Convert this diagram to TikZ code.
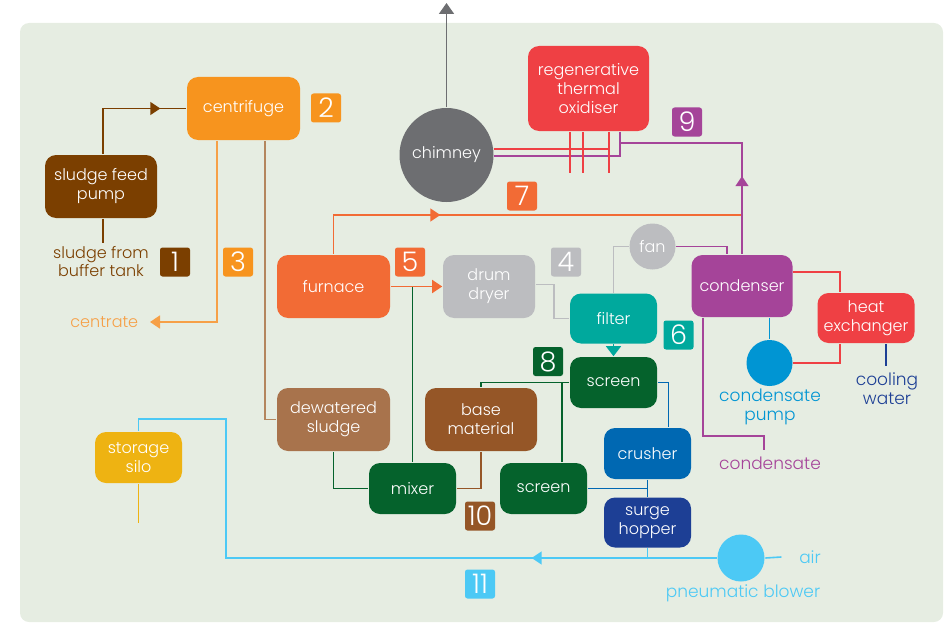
\documentclass[tikz,border=0pt]{standalone}
\usepackage{fontspec}
\setmainfont{Poppins}[UprightFont={* Light}]
\usetikzlibrary{arrows.meta,decorations.markings}

% plant colours
\definecolor{panel}{HTML}{E6EDE2}
\definecolor{cOrange}{HTML}{F7941E}
\definecolor{cCentrate}{HTML}{F6A047}
\definecolor{cPump}{HTML}{7B3F00}
\definecolor{cFurnace}{HTML}{F26B35}
\definecolor{cChimney}{HTML}{6D6E71}
\definecolor{cRed}{HTML}{EF4044}
\definecolor{cPurple}{HTML}{A54499}
\definecolor{cGrey}{HTML}{BCBDC0}
\definecolor{cTeal}{HTML}{00A99D}
\definecolor{cGreen}{HTML}{05622C}
\definecolor{cTan}{HTML}{A8734C}
\definecolor{cTanLine}{HTML}{B4865E}
\definecolor{cBase}{HTML}{955627}
\definecolor{cBlue}{HTML}{0068B2}
\definecolor{cNavy}{HTML}{1D3F95}
\definecolor{cYellow}{HTML}{EEB312}
\definecolor{cSky}{HTML}{4CC9F5}
\definecolor{cPumpBlue}{HTML}{0095D3}

\begin{document}
\begin{tikzpicture}[x=1pt,y=-1pt,line width=1.6pt,
  unit/.style={fill=#1,rounded corners=11pt,text=white,align=center,inner sep=0pt,
    minimum width=87pt,minimum height=51pt,font=\fontsize{16}{19}\selectfont},
  widebox/.style={minimum width=113pt,minimum height=63pt},
  vessel/.style={circle,fill=#1,inner sep=0pt,minimum size=46pt,text=white,
    font=\fontsize{16}{19}\selectfont},
  tag/.style={fill=#1,rounded corners=2.5pt,minimum width=30pt,minimum height=29pt,
    inner sep=0pt,text=white,font=\fontsize{27}{27}\selectfont},
  caption/.style={text=#1,align=center,inner sep=0pt,font=\fontsize{17}{19}\selectfont},
  flow/.style={-{Triangle[length=10pt,width=13pt]}},
  midflow/.style={postaction={decorate,decoration={markings,
    mark=at position #1 with {\arrow{Triangle[length=10pt,width=13pt]}}}}}]

  \useasboundingbox (0,0) rectangle (944,623);
  \fill[panel,rounded corners=9pt] (20,23) rectangle (943,622);

  % process units
  \node[unit=cOrange,widebox] (centrifuge) at (243.5,108.5) {centrifuge};
  \node[unit=cPump,widebox,minimum width=112pt] (feedpump) at (101,186.5) {sludge feed\\pump};
  \node[unit=cFurnace,widebox] (furnace) at (333.5,286.5) {furnace};
  \node[unit=cGrey,widebox,minimum width=92pt] (dryer) at (489,286.5) {drum\\dryer};
  \node[unit=cRed,minimum width=121pt,minimum height=85pt] (rto) at (588.5,88.5) {regenerative\\thermal\\oxidiser};
  \node[unit=cPurple,minimum width=101pt,minimum height=62pt] (condenser) at (742,286) {condenser};
  \node[unit=cRed,minimum width=97pt,minimum height=50pt] (hx) at (866,318) {heat\\exchanger};
  \node[unit=cTeal,minimum height=50pt] (filter) at (613.5,318.5) {filter};
  \node[unit=cGreen] (screenA) at (613.5,382.5) {screen};
  \node[unit=cTan,widebox] (dewatered) at (333.5,419.5) {dewatered\\sludge};
  \node[unit=cBase,widebox,minimum width=112pt] (base) at (481,419.5) {base\\material};
  \node[unit=cGreen] (mixer) at (412.5,488.5) {mixer};
  \node[unit=cGreen] (screenB) at (543.5,488.5) {screen};
  \node[unit=cBlue] (crusher) at (647.5,453.5) {crusher};
  \node[unit=cNavy,minimum height=50pt] (hopper) at (647.5,522.5) {surge\\hopper};
  \node[unit=cYellow] (silo) at (138.5,457.5) {storage\\silo};

  % round ones
  \node[vessel=cChimney,minimum size=94pt] (chimney) at (446.5,155) {chimney};
  \node[vessel=cGrey] (fan) at (652.5,246.5) {fan};
  \node[vessel=cPumpBlue] (cpump) at (769.5,363) {};
  \node[vessel=cSky,minimum size=47pt] (blower) at (741,558) {};

  % free texts
  \node[caption=cPump,font=\fontsize{16}{18}\selectfont] (feedsrc) at (101,262) {sludge from\\buffer tank};
  \node[caption=cCentrate,anchor=east,font=\fontsize{16}{18}\selectfont] (centrate) at (139,322) {centrate};
  \node[caption=cPumpBlue] (cpumptxt) at (770,407) {condensate\\pump};
  \node[caption=cPurple] (condensate) at (770,463) {condensate};
  \node[caption=cNavy] (cooling) at (887,389) {cooling\\water};
  \node[caption=cSky] (blowertxt) at (743,593) {pneumatic blower};
  \node[caption=cSky] (air) at (810,557) {air};

  \coordinate (stack) at (446.5,3);
  \coordinate (flueend) at (742,215);
  \coordinate (rtoin) at (620,143);
  \coordinate (drain) at (764,450);
  \coordinate (bend) at (226,419);

  % sludge side
  \draw[cPump,midflow=103pt] ([xshift=2pt]feedpump.north) |- (centrifuge.west);
  \draw[cPump] ([xshift=2pt]feedpump.south) -- ++(0,24);
  \draw[cCentrate,flow] ([xshift=-26.5pt]centrifuge.south) |- ([xshift=11pt]centrate.east);
  \draw[cTanLine] ([xshift=21.5pt]centrifuge.south) |- (dewatered.west);

  % hot gas
  \draw[cFurnace,midflow=146pt] (furnace.north) |- (flueend);
  \draw[cFurnace,flow] (furnace.east) -- (dryer.west);
  \draw[cGreen] (mixer.north) -- (mixer.north |- furnace.east);
  \draw[cGrey] ([yshift=2pt]dryer.east) -- ++(18,0) |- (filter.west);
  \draw[cGrey] (filter.north) |- (fan.west);
  \draw[cPurple] (fan.east) -| ([xshift=-15pt]condenser.north);
  \draw[cPurple,midflow=78pt] (condenser.north) |- (rtoin);
  \draw[cPurple] ([xshift=31.5pt]rto.south) |- (chimney.-1);
  \foreach \dx in {-18.5,-5.5,20.5}
    \draw[cRed] ([xshift=\dx pt]rto.south) -- ++(0,41);
  \draw[cRed] (chimney.7) -- ([xshift=20.5pt]rto.south |- chimney.7);
  \draw[cChimney,line width=1.8pt,-{Triangle[length=11pt,width=15pt]}] (chimney.north) -- (stack);

  % condenser loop
  \draw[cPurple] ([xshift=-39pt]condenser.south) |- ([yshift=14pt]drain) -- (drain);
  \draw[cPumpBlue] (cpump.north |- condenser.south) -- (cpump.north);
  \draw[cRed] ([yshift=14pt]condenser.east) -| ([xshift=-26pt]hx.north);
  \draw[cRed] ([xshift=-26pt]hx.south) |- (cpump.east);
  \draw[cNavy] ([xshift=20pt]hx.south) -- ++(0,22);

  % solids
  \draw[cTeal,-{Triangle[length=10pt,width=15pt]}] (filter.south) -- (screenA.north);
  \draw[cGreen] (screenA.west) -| (base.north);
  \draw[cGreen] ([xshift=18.5pt]screenB.north) |- (screenA.west);
  \draw[cBlue] (screenA.east) -| ([xshift=21pt]crusher.north);
  \draw[cBlue] (screenB.east) -- (crusher.south |- screenB.east);
  \draw[cBlue] (crusher.south) -- (hopper.north);
  \draw[cGreen] (dewatered.south) |- (mixer.west);
  \draw[cBase] (base.south) |- (mixer.east);

  % pneumatic conveying
  \draw[cSky,midflow=185pt] (blower.west) -| (bend) -| (silo.north);
  \draw[cSky] (hopper.south) -- (hopper.south |- blower.west);
  \draw[cSky] (blower.east) -- ([xshift=-17pt]air.west);
  \draw[cYellow] (silo.south) -- ++(0,39);

  % stream numbers
  \node[tag=cPump] (s1) at (175,262) {1};
  \node[tag=cOrange] (s2) at (326,108) {2};
  \node[tag=cOrange] (s3) at (238,262) {3};
  \node[tag=cGrey] (s4) at (566,262) {4};
  \node[tag=cFurnace] (s5) at (410,262) {5};
  \node[tag=cTeal] (s6) at (678.5,335) {6};
  \node[tag=cFurnace] (s7) at (522,196) {7};
  \node[tag=cGreen] (s8) at (548,361.5) {8};
  \node[tag=cPurple] (s9) at (687,122) {9};
  \node[tag=cBase] (s10) at (480,516) {10};
  \node[tag=cSky] (s11) at (480,584) {11};
\end{tikzpicture}
\end{document}
